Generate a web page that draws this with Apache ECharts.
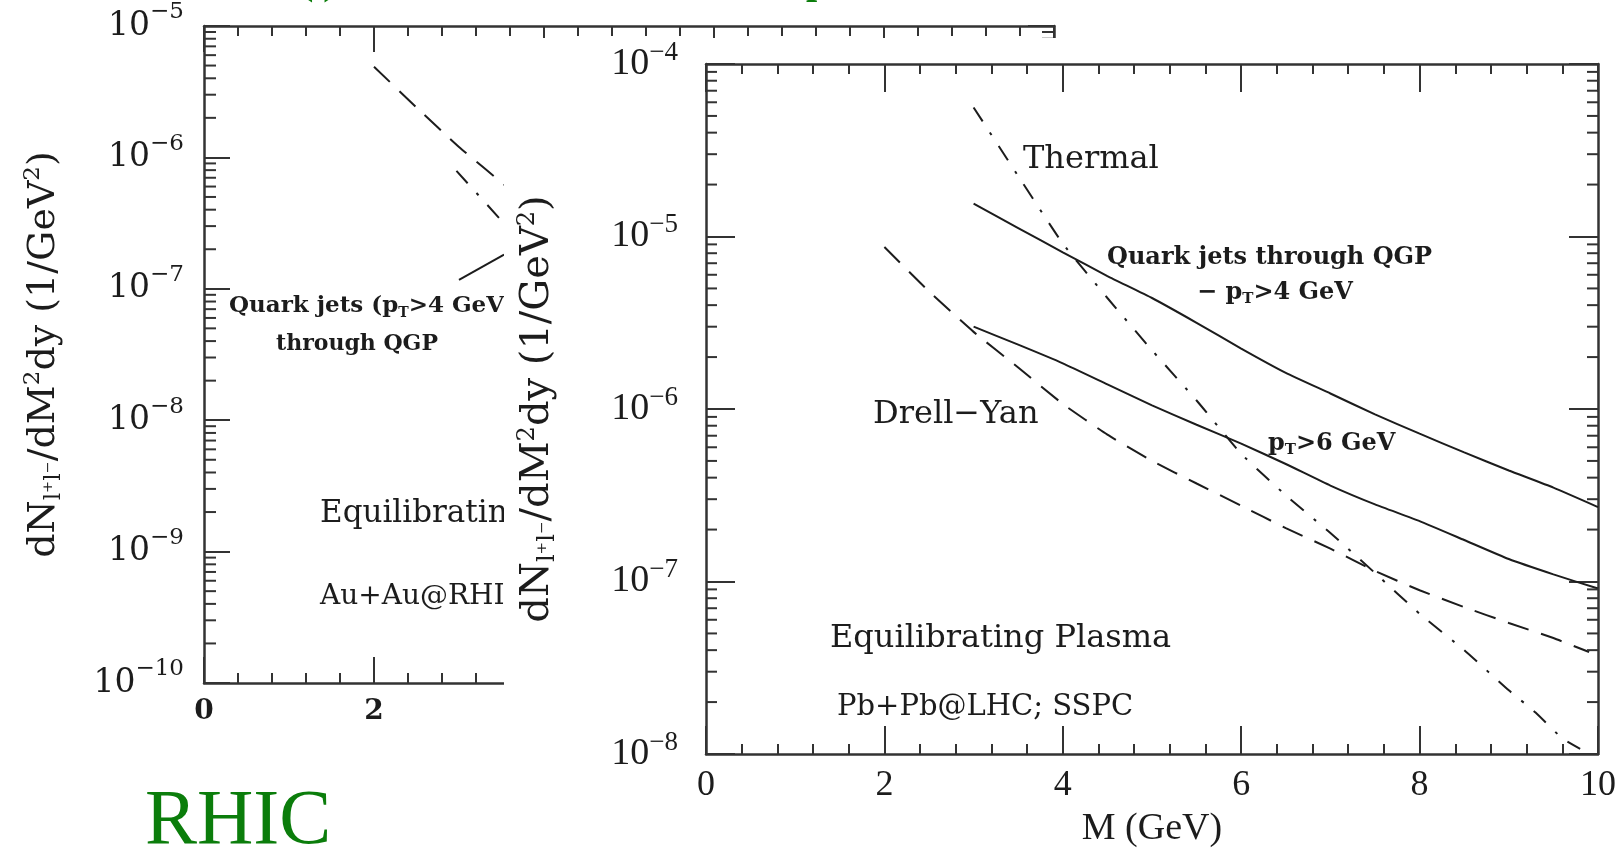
<!DOCTYPE html>
<html>
<head>
<meta charset="utf-8">
<script src="https://cdn.jsdelivr.net/npm/echarts@6/dist/echarts.min.js"></script>
<style>
  html, body { margin: 0; padding: 0; background: #fff; width: 1619px; height: 853px; overflow: hidden; }
  #rhic { position: absolute; left: 0; top: 0; width: 1619px; height: 853px; }
  #lhc  { position: absolute; left: 504px; top: 38px; width: 1115px; height: 815px; }
</style>
</head>
<body>
<div id="rhic"></div>
<div id="lhc"></div>
<script>
// ---------- mass axis (GeV) ----------
const massTicks = [0, 2, 4, 6, 8, 10];
const minorPerMajor = 5;

// ---------- Au+Au @ RHIC panel ----------
const rhicDecades = [-10, -9, -8, -7, -6, -5];
const rhicDrellYanM = [2.0, 2.5, 3.0, 3.6];
const rhicDrellYan  = [4.9e-6, 2.4e-6, 1.2e-6, 5.7e-7];
const rhicThermalM  = [2.97, 3.6];
const rhicThermal   = [7.9e-7, 2.8e-7];
const rhicJetLabelM = [3.0, 3.53];
const rhicJetLabel  = [1.17e-7, 1.82e-7];

// ---------- Pb+Pb @ LHC panel ----------
const lhcDecades = [-8, -7, -6, -5, -4];
const lhcThermalM = [3.0, 3.5, 4.0, 4.5, 5.0, 5.5, 6.0, 6.5, 7.0, 7.5, 8.0, 8.5, 9.0, 9.3, 9.6, 9.8];
const lhcThermal  = [5.6e-5, 2.24e-5, 9.1e-6, 4.4e-6, 2.19e-6, 1.12e-6, 5.5e-7, 3.16e-7, 1.91e-7, 1.12e-7, 6.5e-8, 4.0e-8, 2.34e-8, 1.74e-8, 1.23e-8, 1.07e-8];
const lhcJetsM    = [3.0, 3.5, 4.0, 4.5, 5.0, 5.5, 6.0, 6.5, 7.0, 7.5, 8.0, 8.5, 9.0, 9.5, 10.0];
const lhcJetsPt4  = [1.55e-5, 1.12e-5, 8.1e-6, 5.9e-6, 4.4e-6, 3.16e-6, 2.24e-6, 1.62e-6, 1.23e-6, 9.3e-7, 7.2e-7, 5.6e-7, 4.4e-7, 3.5e-7, 2.7e-7];
const lhcJetsPt6  = [3.0e-6, 2.36e-6, 1.84e-6, 1.39e-6, 1.05e-6, 8.1e-7, 6.3e-7, 4.8e-7, 3.6e-7, 2.8e-7, 2.24e-7, 1.74e-7, 1.35e-7, 1.10e-7, 9.1e-8];
const lhcDrellYanM = [2.0, 2.5, 3.0, 3.5, 4.0, 4.5, 5.0, 5.5, 6.0, 6.5, 7.0, 7.5, 8.0, 8.5, 9.0, 9.5, 9.9];
const lhcDrellYan  = [8.7e-6, 4.8e-6, 2.8e-6, 1.74e-6, 1.07e-6, 7.1e-7, 5.0e-7, 3.7e-7, 2.75e-7, 2.04e-7, 1.55e-7, 1.15e-7, 8.9e-8, 7.1e-8, 5.75e-8, 4.7e-8, 3.9e-8];

// ---------- shared styling ----------
const SERIF = "'DejaVu Serif', 'Liberation Serif', serif";
const TIMES = "'Liberation Serif', 'DejaVu Serif', serif";
const INK = '#1c1c1c';
const FRAME = '#333';
const GREEN = '#0b7d0b';
const DASH = [22, 13];
const DASH_DOT = [17, 13, 3, 13];

const zip = (xs, ys) => xs.map((x, i) => [x, ys[i]]);

// log-decade minor ticks (2..9 x 10^k) for each decade of an axis
function minorLogValues(decades) {
  const out = [];
  for (let i = 0; i < decades.length - 1; i++) {
    for (let m = 2; m <= 9; m++) out.push(m * Math.pow(10, decades[i]));
  }
  return out;
}

function expLabel(v) {
  const e = Math.round(Math.log10(v));
  return '{b|10}{e|' + (e < 0 ? '\u2212' : '') + Math.abs(e) + '}';
}

function lineSeries(data, dash) {
  return {
    type: 'line', data, showSymbol: false, smooth: 0.15, silent: true,
    lineStyle: { color: INK, width: 2, type: dash || 'solid' }
  };
}

function minorTickSeries(values, xMin, xMax, len) {
  return {
    type: 'custom', silent: true, clip: false, z: 5,
    data: values.map(v => [xMin, v]),
    renderItem(params, api) {
      const v = api.value(1);
      const a = api.coord([xMin, v]);
      const b = api.coord([xMax, v]);
      const st = { stroke: FRAME, lineWidth: 2 };
      return {
        type: 'group',
        children: [
          { type: 'line', shape: { x1: a[0], y1: a[1], x2: a[0] + len, y2: a[1] }, style: st },
          { type: 'line', shape: { x1: b[0], y1: b[1], x2: b[0] - len, y2: b[1] }, style: st }
        ]
      };
    }
  };
}

function massAxes(cfg) {
  const base = {
    type: 'value', min: massTicks[0], max: massTicks[massTicks.length - 1], interval: 2,
    axisLine: { show: true, onZero: false, lineStyle: { color: FRAME, width: 2.5 } },
    axisTick: { show: true, inside: true, length: cfg.major, lineStyle: { color: FRAME, width: 2 } },
    minorTick: { show: true, splitNumber: minorPerMajor, length: cfg.minor, lineStyle: { color: FRAME, width: 2 } },
    splitLine: { show: false }
  };
  return [
    Object.assign({}, base, {
      position: 'bottom',
      axisLabel: cfg.label,
      name: cfg.name || '', nameLocation: 'middle', nameGap: cfg.nameGap || 0,
      nameTextStyle: cfg.nameStyle || {}
    }),
    Object.assign({}, base, { position: 'top', axisLabel: { show: false } })
  ];
}

function yieldAxes(cfg) {
  const base = {
    type: 'log', logBase: 10,
    min: Math.pow(10, cfg.decades[0]), max: Math.pow(10, cfg.decades[cfg.decades.length - 1]),
    splitNumber: cfg.decades.length - 1,
    axisLine: { show: true, onZero: false, lineStyle: { color: FRAME, width: 2.5 } },
    axisTick: { show: true, inside: true, length: cfg.major, lineStyle: { color: FRAME, width: 2 } },
    splitLine: { show: false }
  };
  return [
    Object.assign({}, base, {
      position: 'left',
      axisLabel: {
        margin: cfg.labelMargin, formatter: expLabel,
        rich: {
          b: { fontFamily: cfg.labelFont, fontSize: cfg.labelSize, lineHeight: 50, color: INK },
          e: { fontFamily: cfg.labelFont, fontSize: Math.round(cfg.labelSize * 0.7), lineHeight: 22, verticalAlign: 'top', color: INK }
        }
      },
      name: '{t|dN}{s|l\u207Al\u207B}{t|/dM}{p|2}{t|dy (1/GeV}{p|2}{t|)}',
      nameLocation: 'middle', nameRotate: 90, nameGap: cfg.nameGap,
      nameTextStyle: {
        rich: {
          t: { fontFamily: SERIF, fontSize: cfg.nameSize, lineHeight: 44, color: INK },
          s: { fontFamily: SERIF, fontSize: Math.round(cfg.nameSize * 0.6), lineHeight: 22, verticalAlign: 'bottom', color: INK },
          p: { fontFamily: SERIF, fontSize: Math.round(cfg.nameSize * 0.6), lineHeight: 22, verticalAlign: 'top', color: INK }
        }
      }
    }),
    Object.assign({}, base, { position: 'right', axisLabel: { show: false } })
  ];
}

function note(x, y, text, font, size, weight, rich) {
  return {
    type: 'text', x, y, silent: true, z: 10,
    style: {
      text, fill: INK, fontFamily: font, fontSize: size, fontWeight: weight || 'normal',
      align: 'left', verticalAlign: 'middle', rich: rich
    }
  };
}

function ptRich(font, size) {
  return {
    n: { fontFamily: font, fontSize: size, fontWeight: 'bold', lineHeight: 28, fill: INK, color: INK },
    s: { fontFamily: font, fontSize: Math.round(size * 0.62), fontWeight: 'bold', lineHeight: 13, verticalAlign: 'bottom', fill: INK, color: INK }
  };
}

// ---------- RHIC chart ----------
const rhic = echarts.init(document.getElementById('rhic'), null, { renderer: 'canvas' });
rhic.setOption({
  animation: false,
  backgroundColor: '#fff',
  grid: { left: 204, top: 26, width: 850, height: 657 },
  xAxis: massAxes({
    major: 26, minor: 10,
    label: { margin: 15, fontFamily: SERIF, fontSize: 28, fontWeight: 'bold', color: INK }
  }),
  yAxis: yieldAxes({
    decades: rhicDecades, major: 26, labelMargin: 20, labelFont: SERIF, labelSize: 33,
    nameGap: 138, nameSize: 38
  }),
  series: [
    lineSeries(zip(rhicDrellYanM, rhicDrellYan), DASH),
    lineSeries(zip(rhicThermalM, rhicThermal), DASH_DOT),
    lineSeries(zip(rhicJetLabelM, rhicJetLabel)),
    minorTickSeries(minorLogValues(rhicDecades), massTicks[0], massTicks[massTicks.length - 1], 12)
  ],
  graphic: [
    note(229, 306, '{n|Quark jets (p}{s|T}{n|>4 GeV)}', SERIF, 23, 'bold', ptRich(SERIF, 23)),
    note(276, 344, 'through QGP', SERIF, 22, 'bold'),
    note(320, 514, 'Equilibrating Plasma', SERIF, 31),
    note(320, 597, 'Au+Au@RHIC', SERIF, 28),
    {
      type: 'text', x: 145, y: 862, silent: true,
      style: { text: 'RHIC', fill: GREEN, fontFamily: TIMES, fontSize: 78, align: 'left', verticalAlign: 'bottom' }
    },
    {
      type: 'text', x: 300, y: 4, silent: true,
      style: { text: '( )', fill: GREEN, fontFamily: TIMES, fontSize: 40, fontWeight: 'bold', align: 'left', verticalAlign: 'bottom' }
    },
    {
      type: 'text', x: 806, y: 3, silent: true,
      style: { text: 'p', fill: GREEN, fontFamily: TIMES, fontSize: 40, fontWeight: 'bold', align: 'left', verticalAlign: 'bottom' }
    }
  ]
});

// ---------- LHC chart ----------
const lhc = echarts.init(document.getElementById('lhc'), null, { renderer: 'canvas' });
lhc.setOption({
  animation: false,
  backgroundColor: '#fff',
  grid: { left: 202, top: 26, width: 892, height: 690 },
  xAxis: massAxes({
    major: 28, minor: 10,
    label: { margin: 14, fontFamily: TIMES, fontSize: 36, color: INK },
    name: 'M (GeV)', nameGap: 56,
    nameStyle: { fontFamily: TIMES, fontSize: 38, color: INK }
  }),
  yAxis: yieldAxes({
    decades: lhcDecades, major: 29, labelMargin: 28, labelFont: TIMES, labelSize: 38,
    nameGap: 146, nameSize: 40
  }),
  series: [
    lineSeries(zip(lhcThermalM, lhcThermal), DASH_DOT),
    lineSeries(zip(lhcJetsM, lhcJetsPt4)),
    lineSeries(zip(lhcJetsM, lhcJetsPt6)),
    lineSeries(zip(lhcDrellYanM, lhcDrellYan), DASH),
    minorTickSeries(minorLogValues(lhcDecades), massTicks[0], massTicks[massTicks.length - 1], 11)
  ],
  graphic: [
    note(519, 122, 'Thermal', SERIF, 32),
    note(603, 220, 'Quark jets through QGP', SERIF, 24, 'bold'),
    note(693, 255, '{n|\u2212 p}{s|T}{n|>4 GeV}', SERIF, 24, 'bold', ptRich(SERIF, 24)),
    note(369, 377, 'Drell\u2212Yan', SERIF, 32),
    note(764, 406, '{n|p}{s|T}{n|>6 GeV}', SERIF, 24, 'bold', ptRich(SERIF, 24)),
    note(326, 601, 'Equilibrating Plasma', SERIF, 32),
    note(333, 669, 'Pb+Pb@LHC; SSPC', SERIF, 29)
  ]
});
</script>
</body>
</html>
